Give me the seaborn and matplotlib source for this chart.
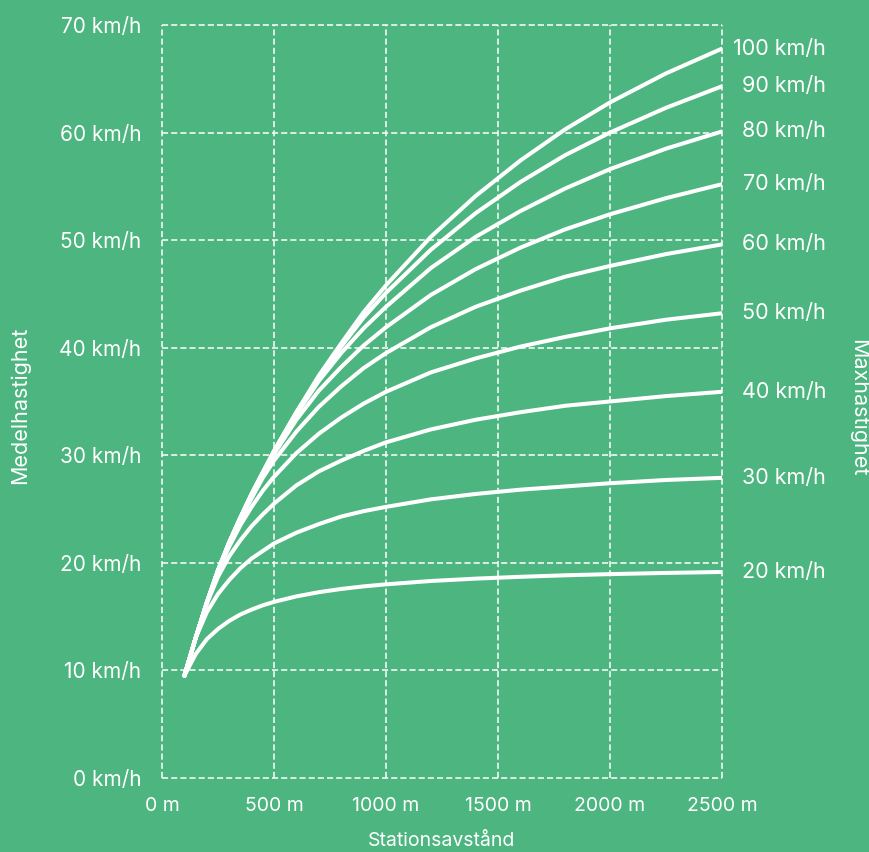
import pandas as pd
import matplotlib
matplotlib.use('Agg')
import matplotlib.pyplot as plt
import seaborn as sns

# values
distance = [100, 150, 200, 250, 300, 350, 400, 450, 500, 600, 700, 800, 900,
            1000, 1200, 1400, 1600, 1800, 2000, 2250, 2500]

v20 = [9.5, 11.5, 12.9, 13.85, 14.6, 15.2, 15.65, 16.05, 16.37, 16.88, 17.27, 17.57,
       17.81, 18.0, 18.31, 18.53, 18.7, 18.84, 18.95, 19.06, 19.15]
v30 = [9.5, 13.0, 15.4, 17.1, 18.4, 19.5, 20.4, 21.1, 21.8, 22.8, 23.6, 24.3,
       24.8, 25.2, 25.9, 26.4, 26.8, 27.1, 27.4, 27.7, 27.9]
v40 = [9.5, 13.0, 16.2, 18.7, 20.6, 22.1, 23.4, 24.5, 25.5, 27.2, 28.5, 29.5,
       30.4, 31.2, 32.4, 33.3, 34.0, 34.6, 35.0, 35.5, 35.9]
v50 = [9.5, 13.0, 16.3, 19.2, 21.5, 23.5, 25.2, 26.7, 28.0, 30.2, 32.0, 33.5,
       34.8, 35.9, 37.7, 39.0, 40.1, 41.0, 41.8, 42.6, 43.2]
v60 = [9.5, 13.0, 16.3, 19.3, 21.8, 24.0, 26.0, 27.9, 29.5, 32.2, 34.5, 36.4,
       38.1, 39.5, 41.9, 43.8, 45.3, 46.6, 47.6, 48.7, 49.6]
v70 = [9.5, 13.0, 16.3, 19.3, 21.9, 24.2, 26.3, 28.3, 30.1, 33.3, 36.0, 38.2,
       40.2, 41.9, 44.9, 47.3, 49.3, 51.0, 52.4, 53.9, 55.2]
v80 = [9.5, 13.0, 16.3, 19.3, 21.9, 24.2, 26.4, 28.4, 30.3, 33.8, 36.9, 39.5,
       41.8, 43.8, 47.4, 50.3, 52.7, 54.8, 56.6, 58.5, 60.1]
v90 = [9.5, 13.0, 16.3, 19.3, 21.9, 24.2, 26.4, 28.4, 30.4, 34.0, 37.2, 40.1,
       42.8, 45.1, 49.1, 52.5, 55.4, 57.9, 60.0, 62.3, 64.3]
v100 = [9.5, 13.0, 16.3, 19.3, 21.9, 24.2, 26.4, 28.4, 30.4, 34.0, 37.4, 40.4,
        43.3, 45.8, 50.3, 54.1, 57.4, 60.3, 62.8, 65.5, 67.8]

max_speeds = [20, 30, 40, 50, 60, 70, 80, 90, 100]
curves = [v20, v30, v40, v50, v60, v70, v80, v90, v100]

x_ticks = [0, 500, 1000, 1500, 2000, 2500]
y_ticks = [0, 10, 20, 30, 40, 50, 60, 70]

green = '#4db57f'

# long table for seaborn
rows = []
for vmax, vals in zip(max_speeds, curves):
    for d, v in zip(distance, vals):
        rows.append({'dist': d, 'avg': v, 'vmax': vmax})
df = pd.DataFrame(rows)

sns.set_style('white', {'axes.facecolor': green, 'figure.facecolor': green})
plt.rcParams['font.family'] = ['Inter', 'DejaVu Sans']

fig = plt.figure(figsize=(8.7, 8.52), dpi=100)
ax = fig.add_axes([0.1862, 0.0869, 0.8299 - 0.1862, 0.9707 - 0.0869])

sns.lineplot(data=df, x='dist', y='avg', hue='vmax', units='vmax', estimator=None,
             palette=['white'] * len(max_speeds), linewidth=2.9, legend=False,
             ax=ax, zorder=3)
for line in ax.get_lines():
    line.set_solid_capstyle('round')
    line.set_solid_joinstyle('round')

ax.set_xlim(0, 2500)
ax.set_ylim(0, 70)
ax.set_xticks(x_ticks)
ax.set_xticklabels([f'{x} m' for x in x_ticks])
ax.set_yticks(y_ticks)
ax.set_yticklabels([f'{y} km/h' for y in y_ticks])
ax.tick_params(length=0, colors='white')
ax.tick_params(axis='y', pad=15, labelsize=15)
ax.tick_params(axis='x', pad=14, labelsize=14)
ax.set_xlabel('')
ax.set_ylabel('')

ax.grid(True, color='white', linewidth=1.1, linestyle=(0, (4, 2)))
for gl in ax.get_xgridlines() + ax.get_ygridlines():
    gl.set_clip_on(False)
for s in ax.spines.values():
    s.set_visible(False)

# right side labels at each curve end
for vmax, vals in zip(max_speeds, curves):
    ax.annotate(f'{vmax} km/h', xy=(distance[-1], vals[-1]), xytext=(75, 0),
                textcoords='offset points', ha='right', va='center',
                color='white', fontsize=15.5, annotation_clip=False)

fig.text(20 / 870, 1 - 405 / 852, 'Medelhastighet', rotation=90, color='white',
         fontsize=15.5, ha='center', va='center')
fig.text(858 / 870, 1 - 408 / 852, 'Maxhastighet', rotation=270, color='white',
         fontsize=15.5, ha='center', va='center')
fig.text(442 / 870, 1 - 841 / 852, 'Stationsavstånd', color='white',
         fontsize=14, ha='center', va='center')

fig.savefig('out.png', dpi=100, facecolor=green)
